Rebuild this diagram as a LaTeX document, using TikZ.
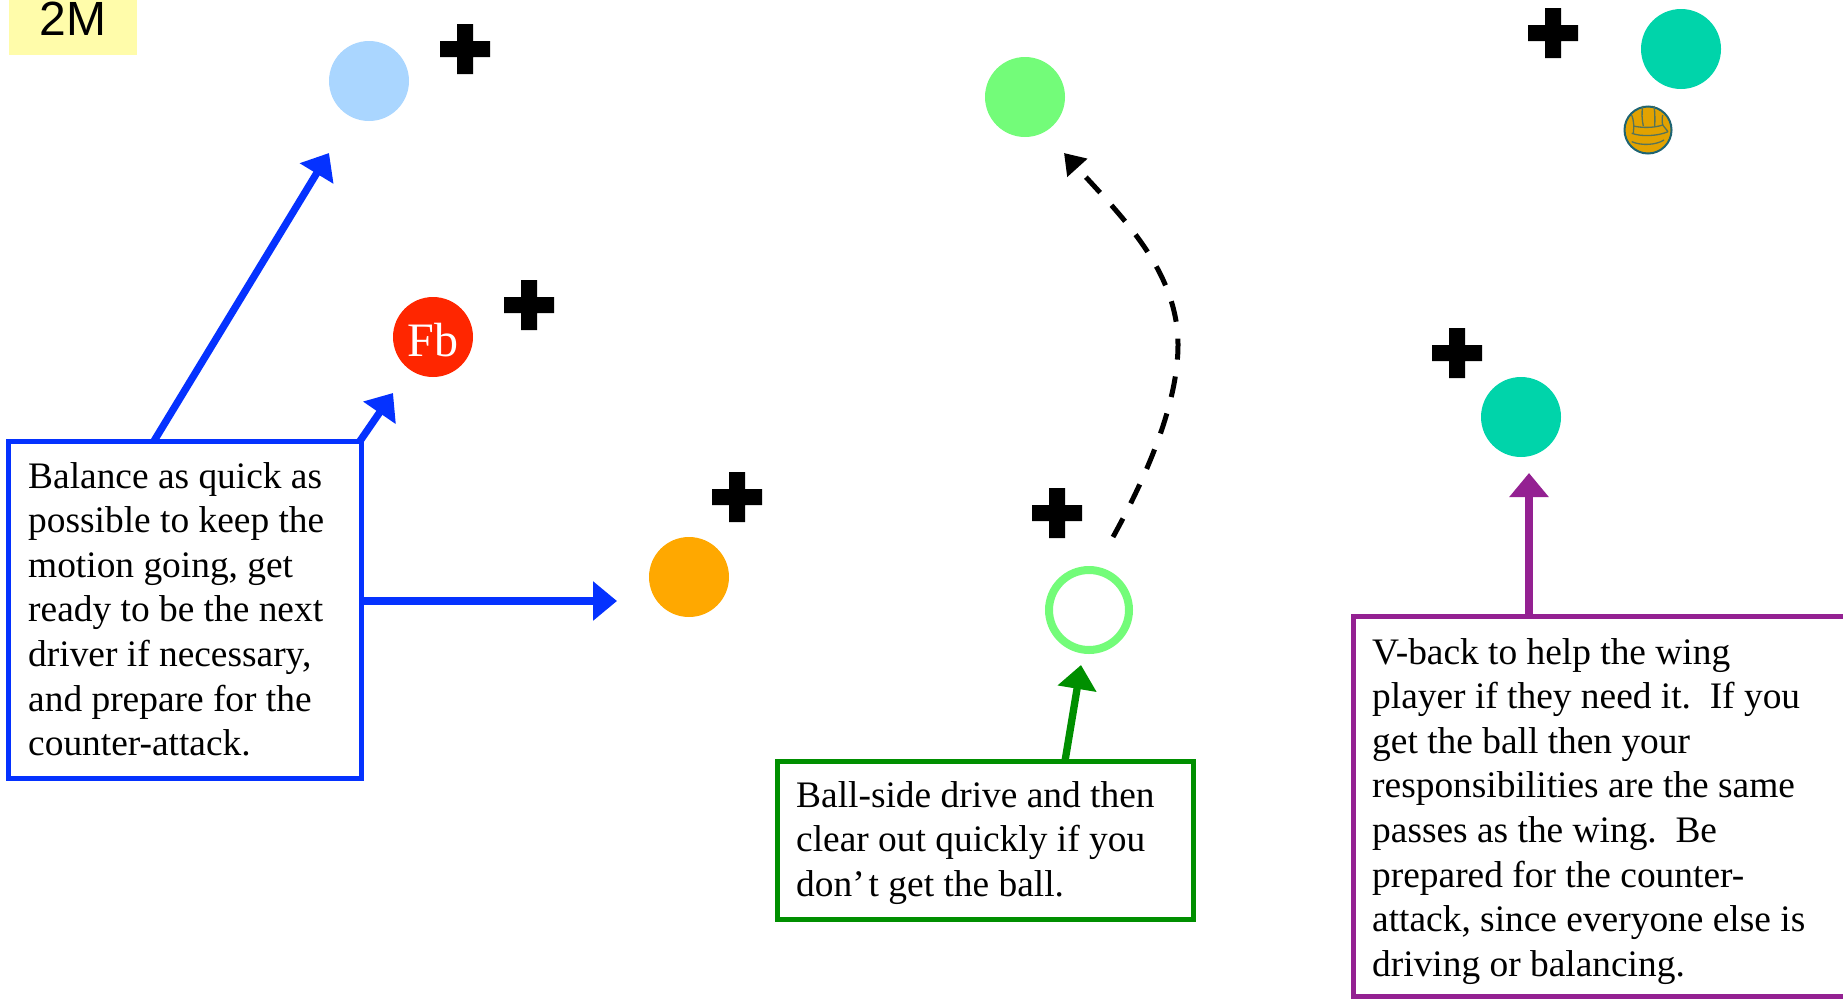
\documentclass[tikz,border=0pt]{standalone}
\usepackage{fontspec}
\setmainfont{Liberation Serif}
\newfontfamily\arialf{Liberation Sans}
\usetikzlibrary{arrows.meta}
\definecolor{cblue}{RGB}{5,50,255}
\definecolor{cgreen}{RGB}{0,143,0}
\definecolor{cpurple}{RGB}{148,33,146}
\definecolor{cyellowb}{RGB}{255,252,170}
\definecolor{clight}{RGB}{170,214,255}
\definecolor{cred}{RGB}{255,38,0}
\definecolor{corange}{RGB}{255,168,0}
\definecolor{clime}{RGB}{115,252,121}
\definecolor{cteal}{RGB}{0,212,170}
\definecolor{cball}{RGB}{226,162,0}
\definecolor{cballe}{RGB}{30,100,115}
\definecolor{cballl}{RGB}{85,115,90}
\tikzset{
  x=1pt,y=-1pt,
  player/.style={circle,minimum size=80pt,inner sep=0pt,outer sep=0pt,fill=#1},
  callout/.style={draw=#1,line width=5pt,fill=white,inner sep=0pt,outer sep=0pt,anchor=north west},
  calltext/.style={font=\fontsize{37.4}{44.6}\selectfont,anchor=north west,align=left,inner sep=0pt},
  pointer/.style={draw=#1,line width=7.3pt,-{Triangle[length=24pt,width=38pt,fill=#1]}},
  ballseam/.style={cballl,line width=1.3pt},
  pluspath/.pic={\fill[black] (-25,-8) -- (-8,-8) -- (-8,-25) -- (8,-25) -- (8,-8) -- (25,-8) -- (25,8) -- (8,8) -- (8,25) -- (-8,25) -- (-8,8) -- (-25,8) -- cycle;}
}
\begin{document}
\begin{tikzpicture}
\useasboundingbox (0,0) rectangle (1843,999);
\node[fill=cyellowb,minimum width=128pt,minimum height=55pt,inner sep=0pt,outer sep=0pt,anchor=north west] (lab) at (9,0) {};
\node[font=\arialf\fontsize{48}{48}\selectfont,anchor=base] (labtext) at (73,35) {2M};

\node[player=clight] (p1) at (369,81) {};
\node[player=cred,text=white,font=\fontsize{48}{48}\selectfont] (p2) at (433,337) {\raisebox{-19pt}[0pt][0pt]{Fb}};
\node[player=corange] (p3) at (689,577) {};
\node[player=clime] (p4) at (1025,97) {};
\node[circle,minimum size=80pt,inner sep=0pt,outer sep=0pt,draw=clime,line width=8pt,fill=white] (p5) at (1089,610) {};
\node[player=cteal] (p6) at (1681,49) {};
\node[player=cteal] (p7) at (1521,417) {};

\foreach \n/\x/\y in {a/465/49,b/529/305,c/737/497,d/1057/513,e/1553/33,f/1457/353}
  \pic (plus\n) at (\x,\y) {pluspath};

% ball
\node[circle,minimum size=47pt,inner sep=0pt,outer sep=0pt,draw=cballe,line width=2pt,fill=cball] (ball) at (1648,130) {};
\draw[ballseam] (1642.7,106) .. controls (1641.5,113) and (1642,120) .. (1643.3,126);
\draw[ballseam] (1654,106) .. controls (1655,113) and (1655,120) .. (1654.7,126);
\draw[ballseam] (1631.7,115) .. controls (1634,121) and (1634,127) .. (1633.3,133);
\draw[ballseam] (1662.7,115) .. controls (1662,118) and (1662,122) .. (1662.7,125);
\draw[ballseam] (1633.3,126) .. controls (1642,128) and (1654,128) .. (1662.7,125);
\draw[ballseam] (1631.7,133.3) .. controls (1642,137) and (1658,136) .. (1668,131.7);
\draw[ballseam] (1631.7,141.7) .. controls (1642,146) and (1656,145) .. (1664,140);
\draw[ballseam] (1662.7,125) -- (1668,131.7);

\node[callout=cblue,minimum width=353pt,minimum height=337pt] (bb) at (8,441) {};
\node[calltext] (bt) at (28,462) {Balance as quick as\\possible to keep the\\motion going, get\\ready to be the next\\driver if necessary,\\and prepare for the\\counter-attack.};
\node[callout=cgreen,minimum width=416pt,minimum height=158pt] (gb) at (777,761) {};
\node[calltext] (gt) at (796,781) {Ball-side drive and then\\clear out quickly if you\\don’\kern4pt t get the ball.};
\node[callout=cpurple,minimum width=520pt,minimum height=380pt] (pb) at (1353,616) {};
\node[calltext] (pt) at (1372,638) {V-back to help the wing\\player if they need it.\ \ If you\\get the ball then your\\responsibilities are the same\\passes as the wing.\ \ Be\\prepared for the counter-\\attack, since everyone else is\\driving or balancing.};

\coordinate (s1) at (154,441); \coordinate (t1) at (329,153);
\coordinate (s2) at (360,441); \coordinate (t2) at (393,393);
\coordinate (s3) at (361,601); \coordinate (t3) at (617,601);
\coordinate (s4) at (1065,761); \coordinate (t4) at (1081,665);
\coordinate (s5) at (1529,616); \coordinate (t5) at (1529,473);
\coordinate (s6) at (1113,537); \coordinate (t6) at (1064,153);
\coordinate (m6) at (1178,345);
\draw[pointer=cblue] (s1) -- (t1);
\draw[pointer=cblue] (s2) -- (t2);
\draw[pointer=cblue] (s3) -- (t3);
\draw[pointer=cgreen] (s4) -- (t4);
\draw[pointer=cpurple] (s5) -- (t5);
\draw[black,line width=5pt,dash pattern=on 21pt off 17pt,-{Triangle[length=20pt,width=26pt,fill=black]}]
  (s6) .. controls (1150,470) and (1178,400) .. (m6) .. controls (1178,270) and (1120,215) .. (t6);
\end{tikzpicture}
\end{document}
